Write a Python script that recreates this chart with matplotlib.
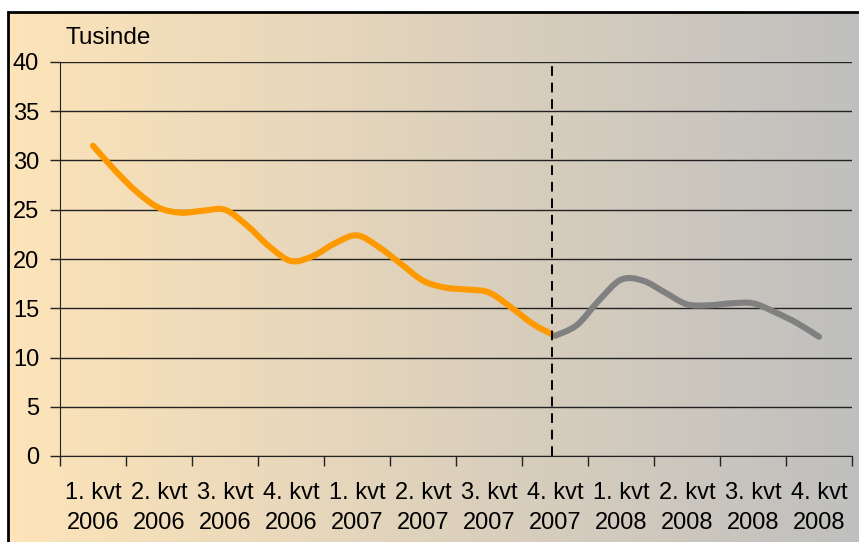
import numpy as np
import matplotlib
matplotlib.use("Agg")
import matplotlib.pyplot as plt
from matplotlib.patches import Rectangle, PathPatch
from matplotlib.path import Path

plt.rcParams['font.family'] = ['Liberation Sans', 'DejaVu Sans']

# quarter labels on the x axis
quarters = ['1. kvt\n2006', '2. kvt\n2006', '3. kvt\n2006', '4. kvt\n2006',
            '1. kvt\n2007', '2. kvt\n2007', '3. kvt\n2007', '4. kvt\n2007',
            '1. kvt\n2008', '2. kvt\n2008', '3. kvt\n2008', '4. kvt\n2008']

# monthly values (thousands), actual up to 4. kvt 2007
actual = [31.5, 29.0, 26.8, 25.2, 24.7, 24.9, 25.0, 23.4, 21.3, 19.8, 20.3,
          21.6, 22.4, 21.2, 19.5, 17.8, 17.1, 16.9, 16.6, 15.1, 13.4, 12.2]
# forecast 4. kvt 2007 - 4. kvt 2008
forecast = [12.2, 13.3, 15.8, 17.9, 17.8, 16.6, 15.4, 15.3, 15.5, 15.5,
            14.6, 13.5, 12.1]

x_actual = np.arange(len(actual)) / 3
x_forecast = 7 + np.arange(len(forecast)) / 3


def smooth_path(xs, ys):
    # Excel-style smoothed line: cubic bezier through every point
    pts = np.column_stack([xs, ys])
    n = len(pts)
    verts = [pts[0]]
    codes = [Path.MOVETO]
    for i in range(n - 1):
        p0 = pts[i - 1] if i > 0 else pts[i]
        p1 = pts[i]
        p2 = pts[i + 1]
        p3 = pts[i + 2] if i + 2 < n else pts[i + 1]
        c1 = p1 + (p2 - p0) / 6
        c2 = p2 - (p3 - p1) / 6
        verts += [c1, c2, p2]
        codes += [Path.CURVE4] * 3
    return Path(verts, codes)


fig = plt.figure(figsize=(8.59, 5.42), dpi=100)
fig.patch.set_facecolor('white')

# gradient background for the chart area
bg = fig.add_axes([8 / 859, -0.02, 1.0, (542 - 12) / 542 + 0.02])
left_col = np.array([253, 228, 185]) / 255
right_col = np.array([191, 191, 191]) / 255
t = np.linspace(0, 1, 256)[None, :, None]
grad = left_col * (1 - t) + right_col * t
bg.imshow(grad, aspect='auto', extent=[0, 1, 0, 1])
bg.set_xlim(0, 1)
bg.set_ylim(0, 1)
bg.axis('off')
bg.add_patch(Rectangle((0, 0), 1, 1, transform=bg.transAxes, fill=False,
                       edgecolor='black', linewidth=2.0, clip_on=False))

ax = fig.add_axes([60 / 859, (542 - 456) / 542, 792 / 859, 394 / 542])
ax.patch.set_alpha(0)

ax.set_xlim(-0.5, 11.5)
ax.set_ylim(0, 40)

ax.set_yticks(range(0, 41, 5))
ax.yaxis.grid(True, color='#222222', linewidth=1.0)
ax.set_axisbelow(True)

ax.set_xticks(range(12))
ax.set_xticklabels(quarters, fontsize=17, linespacing=1.45)
ax.set_xticks(np.arange(-0.5, 12, 1), minor=True)
ax.tick_params(axis='x', which='major', length=0, pad=19)
ax.tick_params(axis='x', which='minor', length=7, width=1, color='#222222',
               direction='out')
ax.tick_params(axis='y', length=7, width=1, color='#222222', pad=8,
               labelsize=17)

for s in ['top', 'right']:
    ax.spines[s].set_visible(False)
ax.spines['left'].set_color('#222222')
ax.spines['bottom'].set_color('#222222')

ax.axvline(6.95, color='black', linewidth=1.4, linestyle=(0, (5, 3.5)))

for xs, ys, col in [(x_actual, actual, '#FF9900'),
                    (x_forecast, forecast, '#808080')]:
    ax.add_patch(PathPatch(smooth_path(xs, ys), facecolor='none',
                           edgecolor=col, linewidth=4.4, capstyle='round',
                           joinstyle='round'))

fig.text(65 / 859, 1 - 38 / 542, 'Tusinde', fontsize=17.5, va='center',
         ha='left')

fig.savefig('out.png', dpi=100)
